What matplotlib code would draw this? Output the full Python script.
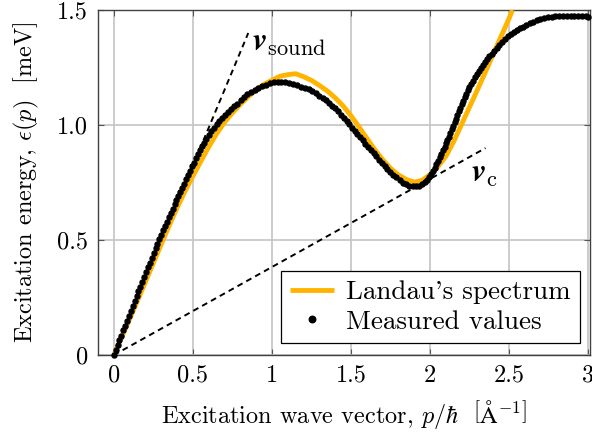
import matplotlib
matplotlib.use('Agg')
import matplotlib.pyplot as plt

plt.rcParams['font.family'] = 'serif'
plt.rcParams['font.serif'] = ['cmr10']
plt.rcParams['mathtext.fontset'] = 'cm'
plt.rcParams['axes.formatter.use_mathtext'] = True

p_meas = [0.000, 0.012, 0.024, 0.036, 0.048, 0.060, 0.072, 0.084, 0.096, 0.108,
          0.120, 0.132, 0.144, 0.156, 0.168, 0.180, 0.192, 0.204, 0.216, 0.228,
          0.240, 0.252, 0.264, 0.276, 0.288, 0.300, 0.312, 0.324, 0.336, 0.348,
          0.360, 0.372, 0.384, 0.396, 0.408, 0.420, 0.432, 0.444, 0.456, 0.468,
          0.480, 0.492, 0.504, 0.517, 0.530, 0.543, 0.557, 0.571, 0.586, 0.601,
          0.617, 0.633, 0.650, 0.667, 0.685, 0.703, 0.722, 0.741, 0.761, 0.781,
          0.802, 0.823, 0.845, 0.867, 0.890, 0.913, 0.937, 0.961, 0.985, 1.010,
          1.035, 1.060, 1.085, 1.110, 1.135, 1.160, 1.185, 1.208, 1.231, 1.254,
          1.277, 1.299, 1.320, 1.341, 1.361, 1.381, 1.400, 1.419, 1.437, 1.455,
          1.472, 1.489, 1.506, 1.523, 1.540, 1.557, 1.574, 1.591, 1.608, 1.625,
          1.642, 1.659, 1.676, 1.694, 1.712, 1.730, 1.749, 1.768, 1.787, 1.807,
          1.827, 1.847, 1.868, 1.889, 1.910, 1.930, 1.949, 1.966, 1.981, 1.994,
          2.006, 2.018, 2.029, 2.040, 2.051, 2.061, 2.071, 2.081, 2.091, 2.100,
          2.109, 2.118, 2.127, 2.136, 2.145, 2.154, 2.163, 2.172, 2.181, 2.190,
          2.199, 2.208, 2.218, 2.228, 2.238, 2.248, 2.259, 2.270, 2.282, 2.294,
          2.306, 2.319, 2.332, 2.346, 2.360, 2.375, 2.390, 2.406, 2.422, 2.438,
          2.455, 2.472, 2.490, 2.508, 2.527, 2.547, 2.567, 2.588, 2.609, 2.630,
          2.652, 2.674, 2.697, 2.720, 2.744, 2.768, 2.792, 2.816, 2.840, 2.864,
          2.888, 2.912, 2.936, 2.960, 2.984, 3.000]
e_meas = [0.000, 0.021, 0.043, 0.064, 0.085, 0.107, 0.128, 0.150, 0.171, 0.192,
          0.213, 0.235, 0.256, 0.277, 0.298, 0.319, 0.340, 0.361, 0.382, 0.402,
          0.423, 0.443, 0.464, 0.484, 0.503, 0.523, 0.542, 0.561, 0.580, 0.599,
          0.618, 0.636, 0.655, 0.673, 0.691, 0.709, 0.727, 0.745, 0.764, 0.783,
          0.802, 0.820, 0.837, 0.855, 0.873, 0.890, 0.907, 0.924, 0.941, 0.957,
          0.973, 0.988, 1.003, 1.017, 1.031, 1.044, 1.057, 1.069, 1.081, 1.093,
          1.110, 1.122, 1.134, 1.145, 1.154, 1.162, 1.170, 1.176, 1.181, 1.185,
          1.187, 1.187, 1.186, 1.183, 1.179, 1.173, 1.166, 1.162, 1.155, 1.147,
          1.138, 1.128, 1.118, 1.107, 1.096, 1.084, 1.072, 1.059, 1.045, 1.031,
          1.017, 1.003, 0.989, 0.975, 0.961, 0.947, 0.933, 0.919, 0.905, 0.891,
          0.877, 0.864, 0.850, 0.836, 0.822, 0.809, 0.796, 0.784, 0.772, 0.760,
          0.750, 0.742, 0.737, 0.734, 0.734, 0.737, 0.743, 0.751, 0.762, 0.774,
          0.787, 0.801, 0.815, 0.830, 0.845, 0.860, 0.875, 0.890, 0.905, 0.920,
          0.935, 0.950, 0.965, 0.981, 0.996, 1.012, 1.028, 1.044, 1.060, 1.076,
          1.091, 1.106, 1.121, 1.136, 1.151, 1.165, 1.179, 1.193, 1.207, 1.221,
          1.234, 1.247, 1.260, 1.273, 1.286, 1.298, 1.310, 1.322, 1.336, 1.350,
          1.362, 1.374, 1.385, 1.395, 1.404, 1.412, 1.420, 1.428, 1.436, 1.443,
          1.450, 1.456, 1.462, 1.467, 1.470, 1.471, 1.472, 1.472, 1.472, 1.472,
          1.472, 1.473, 1.473, 1.472, 1.472, 1.471]

# Landau's spectrum
p_landau = [0.00, 0.05, 0.10, 0.15, 0.20, 0.25, 0.30, 0.35, 0.40, 0.45,
            0.50, 0.55, 0.60, 0.65, 0.70, 0.75, 0.80, 0.85, 0.90, 0.95,
            1.00, 1.05, 1.10, 1.15, 1.20, 1.25, 1.30, 1.35, 1.40, 1.45,
            1.50, 1.55, 1.60, 1.65, 1.70, 1.75, 1.80, 1.85, 1.90, 1.95,
            2.00, 2.05, 2.10, 2.15, 2.20, 2.25, 2.30, 2.35, 2.40, 2.45,
            2.50, 2.52]
e_landau = [0.000, 0.078, 0.157, 0.237, 0.318, 0.400, 0.482, 0.563, 0.640, 0.712,
            0.778, 0.842, 0.905, 0.962, 1.012, 1.053, 1.090, 1.123, 1.153, 1.177,
            1.195, 1.212, 1.219, 1.223, 1.210, 1.194, 1.172, 1.148, 1.118, 1.083,
            1.040, 0.992, 0.942, 0.893, 0.850, 0.812, 0.783, 0.763, 0.752, 0.760,
            0.785, 0.820, 0.865, 0.930, 1.005, 1.080, 1.155, 1.232, 1.310, 1.388,
            1.465, 1.500]

# tangent lines (sound velocity, critical velocity)
p_sound = [0.0, 0.85]
e_sound = [0.0, 1.40]
p_crit = [0.0, 2.35]
e_crit = [0.0, 0.90]

x_ticks = [0, 0.5, 1, 1.5, 2, 2.5, 3]
x_labels = ['0', '0.5', '1', '1.5', '2', '2.5', '3']
y_ticks = [0, 0.5, 1.0, 1.5]
y_labels = ['0', '0.5', '1.0', '1.5']

FS = 17.5

fig = plt.figure(figsize=(5.92, 4.45), dpi=100)
ax = fig.add_axes([0.1655, 0.202, 0.831, 0.7755])

ax.plot(p_sound, e_sound, color='black', lw=1.4, ls=(0, (3, 2.2)), zorder=2)
ax.plot(p_crit, e_crit, color='black', lw=1.4, ls=(0, (3, 2.2)), zorder=2)
ax.plot(p_landau, e_landau, color='#ffb400', lw=3.5, solid_capstyle='butt',
        label="Landau's spectrum", zorder=3)
ax.plot(p_meas, e_meas, ls='none', marker='o', ms=3.6, color='black',
        label='Measured values', zorder=4, clip_on=False)

ax.text(0.875, 1.35, r'$\mathbfit{v}_{\mathrm{sound}}$', fontsize=23, va='center')
ax.text(2.26, 0.78, r'$\mathbfit{v}_{\mathrm{c}}$', fontsize=23, va='center')

ax.set_xlim(-0.1, 3.01)
ax.set_ylim(0, 1.5)
ax.set_xticks(x_ticks)
ax.set_xticklabels(x_labels)
ax.set_yticks(y_ticks)
ax.set_yticklabels(y_labels)
ax.grid(True, color='#c4c4c4', lw=1.2)
ax.set_axisbelow(True)
ax.tick_params(direction='in', length=4, width=0.8, color='#555555',
               top=True, right=True, labelsize=FS, pad=7)
for s in ax.spines.values():
    s.set_color('#404040')
    s.set_linewidth(1.0)

ax.set_xlabel(r'Excitation wave vector, $p/\hbar$  $\left[\mathrm{\AA}^{-1}\right]$',
              fontsize=FS, labelpad=8)
ax.set_ylabel(r'Excitation energy, $\epsilon(p)$  $[\mathrm{meV}]$',
              fontsize=FS, labelpad=12)

leg = ax.legend(loc='lower right', bbox_to_anchor=(0.98, 0.035), fontsize=19.5,
                frameon=True, fancybox=False, edgecolor='black', framealpha=1,
                handlelength=1.6, borderpad=0.35, labelspacing=0.2,
                handletextpad=0.45, markerscale=1.3, borderaxespad=0)
leg.get_frame().set_linewidth(0.9)

fig.savefig('out.png', dpi=100)
